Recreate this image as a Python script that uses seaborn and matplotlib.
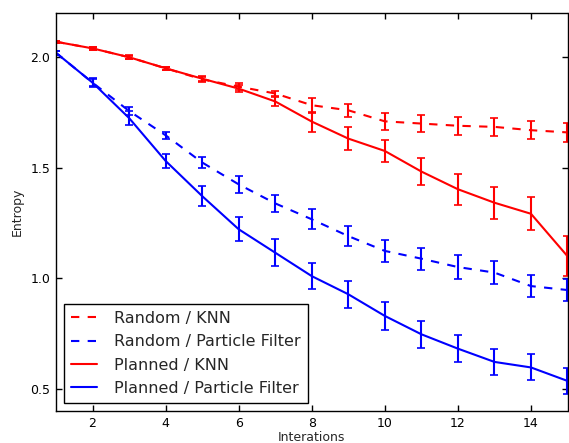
import numpy as np
import pandas as pd
import seaborn as sns
import matplotlib.pyplot as plt

# Values
iterations = list(range(1, 16))

random_knn = [2.07, 2.04, 2.00, 1.95, 1.90, 1.867, 1.836, 1.783, 1.76, 1.71, 1.70, 1.69, 1.685, 1.67, 1.66]
random_knn_err = [0.005, 0.008, 0.008, 0.008, 0.01, 0.015, 0.013, 0.033, 0.03, 0.04, 0.04, 0.04, 0.042, 0.042, 0.044]

random_pf = [2.02, 1.885, 1.757, 1.647, 1.524, 1.425, 1.339, 1.267, 1.191, 1.124, 1.089, 1.051, 1.026, 0.965, 0.947]
random_pf_err = [0.008, 0.015, 0.02, 0.016, 0.026, 0.04, 0.04, 0.045, 0.047, 0.051, 0.05, 0.053, 0.053, 0.051, 0.05]

planned_knn = [2.07, 2.04, 2.00, 1.95, 1.903, 1.858, 1.80, 1.709, 1.632, 1.576, 1.483, 1.403, 1.342, 1.292, 1.10]
planned_knn_err = [0.005, 0.008, 0.006, 0.006, 0.01, 0.015, 0.02, 0.045, 0.052, 0.051, 0.062, 0.07, 0.073, 0.075, 0.09]

planned_pf = [2.02, 1.885, 1.725, 1.531, 1.372, 1.222, 1.116, 1.01, 0.928, 0.83, 0.747, 0.682, 0.622, 0.597, 0.536]
planned_pf_err = [0.008, 0.019, 0.03, 0.03, 0.047, 0.055, 0.06, 0.059, 0.061, 0.062, 0.062, 0.06, 0.057, 0.059, 0.06]

labels = ["Random / KNN", "Random / Particle Filter", "Planned / KNN", "Planned / Particle Filter"]
series = [random_knn, random_pf, planned_knn, planned_pf]
errors = [random_knn_err, random_pf_err, planned_knn_err, planned_pf_err]
colors = {labels[0]: "red", labels[1]: "blue", labels[2]: "red", labels[3]: "blue"}
dashes = {labels[0]: (6, 6), labels[1]: (6, 6), labels[2]: "", labels[3]: ""}

df = pd.concat(
    [pd.DataFrame({"Interations": iterations, "Entropy": s, "err": e, "series": lab})
     for lab, s, e in zip(labels, series, errors)],
    ignore_index=True,
)

sns.set_style("ticks")
plt.rcParams["lines.scale_dashes"] = False
plt.rcParams["font.family"] = ["DejaVu Sans"]

fig = plt.figure(figsize=(5.69, 4.43), dpi=100)
ax = fig.add_axes([56 / 569, 1 - 411 / 443, 511.5 / 569, 398 / 443])

sns.lineplot(data=df, x="Interations", y="Entropy", hue="series", style="series",
             hue_order=labels, style_order=labels, palette=colors, dashes=dashes,
             linewidth=1.5, ax=ax)

for lab in labels:
    sub = df[df["series"] == lab]
    ax.errorbar(sub["Interations"], sub["Entropy"], yerr=sub["err"], fmt="none",
                ecolor=colors[lab], elinewidth=1.5, capsize=3, capthick=1.2)

ax.set_xlim(1, 15)
ax.set_ylim(0.4, 2.2)
ax.set_xticks([2, 4, 6, 8, 10, 12, 14])
ax.set_yticks([0.5, 1.0, 1.5, 2.0])
ax.tick_params(direction="in", top=True, right=True, length=4, width=1,
               labelsize=9, colors="black", pad=4)
for sp in ax.spines.values():
    sp.set_color("black")
    sp.set_linewidth(1)
ax.set_xlabel("Interations", fontsize=9, labelpad=1)
ax.set_ylabel("Entropy", fontsize=9, labelpad=5)

leg = ax.legend(loc="lower left", fontsize=11.5, handlelength=1.6, frameon=True,
                fancybox=False, borderaxespad=0.5, labelspacing=0.52, handletextpad=1.1,
                borderpad=0.45)
leg.get_frame().set_edgecolor("black")
leg.get_frame().set_linewidth(1)
leg.get_frame().set_alpha(1)
leg.set_title(None)

fig.savefig("out.png", dpi=100)
